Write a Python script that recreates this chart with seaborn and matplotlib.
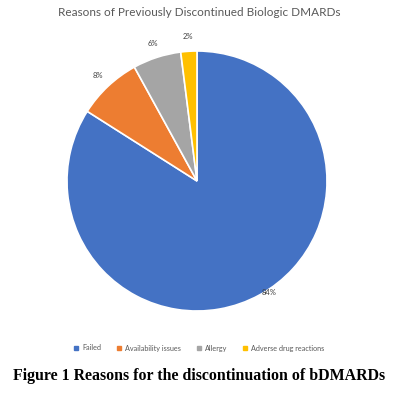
import matplotlib
matplotlib.use("Agg")
import matplotlib.pyplot as plt
import seaborn as sns
from matplotlib.lines import Line2D

# data
reasons = ["Failed", "Availability issues", "Allergy", "Adverse drug reactions"]
percents = [84, 8, 6, 2]
slice_colors = ["#4472C4", "#ED7D31", "#A5A5A5", "#FFC000"]

title = "Reasons of Previously Discontinued Biologic DMARDs"
caption = "Figure 1 Reasons for the discontinuation of bDMARDs"

sns.set_theme(style="white")
plt.rcParams["font.family"] = ["Lato", "DejaVu Sans"]
palette = sns.color_palette(slice_colors)

fig = plt.figure(figsize=(3.98, 3.96), dpi=100)
ax = fig.add_axes([67 / 398, (396 - 311) / 396, 260 / 398, 260 / 396])

wedges, texts, autotexts = ax.pie(
    percents,
    colors=palette,
    startangle=90,
    counterclock=False,
    radius=1.0,
    autopct="%d%%",
    pctdistance=1.11,
    wedgeprops=dict(edgecolor="white", linewidth=1.2),
    textprops=dict(fontsize=5.5, color="#404040"),
)
# the big slice label sits closer to the rim, nudged right/up like the original
x, y = autotexts[0].get_position()
autotexts[0].set_position((x * 1.04 / 1.11 + 0.05, y * 1.04 / 1.11 + 0.05))

ax.set_xlim(-1, 1)
ax.set_ylim(-1, 1)
ax.set_aspect("equal")
ax.axis("off")

fig.text(0.5, 1 - 12 / 396, title, ha="center", va="center",
         fontsize=8.5, color="#595959")

handles = [Line2D([0], [0], marker="s", linestyle="none", markersize=2.2,
                  markerfacecolor=c, markeredgecolor=c) for c in palette]
fig.legend(handles, reasons, loc="center", bbox_to_anchor=(0.5, 1 - 348 / 396),
           ncol=4, frameon=False, fontsize=5.2, handlelength=0.6,
           handletextpad=0.5, columnspacing=2.2, labelcolor="#595959")

fig.text(0.5, 1 - 376 / 396, caption, ha="center", va="center",
         fontsize=11.4, fontweight="bold", family=["Liberation Serif"],
         color="black")

fig.savefig("out.png", dpi=100)
